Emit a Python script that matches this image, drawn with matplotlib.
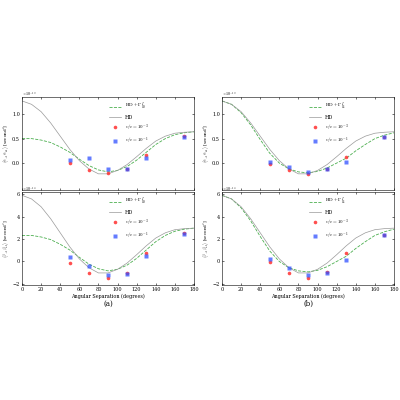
import numpy as np
import matplotlib.pyplot as plt

plt.rcParams['font.family'] = 'DejaVu Serif'
plt.rcParams['mathtext.fontset'] = 'cm'
plt.rcParams['font.size'] = 3.5

ang = np.arange(0, 190, 10)
hd_top = [1.27, 1.2, 1.05, 0.82, 0.55, 0.28, 0.05, -0.12, -0.22, -0.22, -0.15, -0.03, 0.13, 0.30, 0.45, 0.55, 0.61, 0.63, 0.64]
g10_top = [0.5, 0.5, 0.47, 0.42, 0.33, 0.22, 0.08, -0.05, -0.14, -0.18, -0.15, -0.07, 0.06, 0.22, 0.38, 0.50, 0.58, 0.62, 0.64]
g11_top = [1.27, 1.2, 1.03, 0.78, 0.48, 0.2, 0.0, -0.12, -0.18, -0.2, -0.17, -0.1, 0.0, 0.1, 0.25, 0.38, 0.5, 0.57, 0.62]
scale = 4.65

pt_ang = [50, 70, 90, 110, 130, 170]
a_top_red = [0.0, -0.15, -0.2, -0.13, 0.17, 0.56]
a_top_blue = [0.07, 0.1, -0.12, -0.13, 0.1, 0.54]
a_bot_red = [-0.1, -1.0, -1.5, -1.0, 0.8, 2.5]
a_bot_blue = [0.4, -0.4, -1.2, -1.1, 0.5, 2.45]
b_top_red = [-0.02, -0.15, -0.23, -0.13, 0.13, 0.53]
b_top_blue = [0.03, -0.08, -0.18, -0.13, 0.03, 0.53]
b_bot_red = [-0.05, -1.05, -1.5, -0.9, 0.8, 2.4]
b_bot_blue = [0.2, -0.6, -1.2, -1.0, 0.1, 2.4]

fig = plt.figure(figsize=(4, 4), dpi=100)
W, H = 400, 400
panels = [
    (22, 97, 'top', g10_top, a_top_red, a_top_blue, r'$\mathrm{HD}+\Gamma^{I}_{10}$'),
    (22, 192, 'bot', g10_top, a_bot_red, a_bot_blue, r'$\mathrm{HD}+\Gamma^{I}_{10}$'),
    (222, 97, 'top', g11_top, b_top_red, b_top_blue, r'$\mathrm{HD}+\Gamma^{I}_{11}$'),
    (222, 192, 'bot', g11_top, b_bot_red, b_bot_blue, r'$\mathrm{HD}+\Gamma^{I}_{11}$'),
]
for x0, y0, kind, green, red, blue, glab in panels:
    ax = fig.add_axes([x0 / W, 1 - (y0 + 93) / H, 172 / W, 93 / H])
    s = 1.0 if kind == 'top' else scale
    ax.plot(ang, np.array(green) * s, '--', color='#4caf50', lw=0.6, label=glab)
    ax.plot(ang, np.array(hd_top) * s, '-', color='#999999', lw=0.5, label='HD')
    ax.plot(pt_ang, red, 'o', color='#ff3030', ms=2.6, alpha=0.85, mec='none', label=r'$v/c=10^{-3}$')
    ax.plot(pt_ang, blue, 's', color='#3050ff', ms=2.6, alpha=0.75, mec='none', label=r'$v/c=10^{-1}$')
    ax.set_xlim(0, 180)
    ax.set_xticks(range(0, 181, 20))
    ax.tick_params(direction='in', length=1.5, width=0.4, pad=1.5, top=True, right=True)
    for sp in ax.spines.values():
        sp.set_linewidth(0.4)
    if kind == 'top':
        ax.set_ylim(-0.55, 1.35)
        ax.set_yticks([0.0, 0.5, 1.0])
        ax.set_xticklabels([])
        ax.set_ylabel(r'$\langle \alpha_{+1}\alpha_{k1}\rangle$ [second$^2$]', labelpad=1, fontsize=3)
        ax.text(0, 1.01, r'$\times10^{-13}$', transform=ax.transAxes, fontsize=3)
    else:
        ax.set_ylim(-2.1, 6.2)
        ax.set_yticks([-2, 0, 2, 4, 6])
        ax.set_xlabel('Angular Separation (degrees)', labelpad=1)
        ax.set_ylabel(r'$\langle \beta_{+1}\beta_{k1}\rangle$ [second$^2$]', labelpad=1, fontsize=3)
        ax.text(0, 1.01, r'$\times10^{-14}$', transform=ax.transAxes, fontsize=3)
    ax.legend(loc='upper center', bbox_to_anchor=(0.62, 1.0), frameon=False, fontsize=3.5,
              handlelength=2.5, labelspacing=0.5)

fig.text(108 / W, 1 - 304 / H, '(a)', ha='center', va='center', fontsize=5)
fig.text(308 / W, 1 - 304 / H, '(b)', ha='center', va='center', fontsize=5)
fig.savefig('out.png', dpi=100)
